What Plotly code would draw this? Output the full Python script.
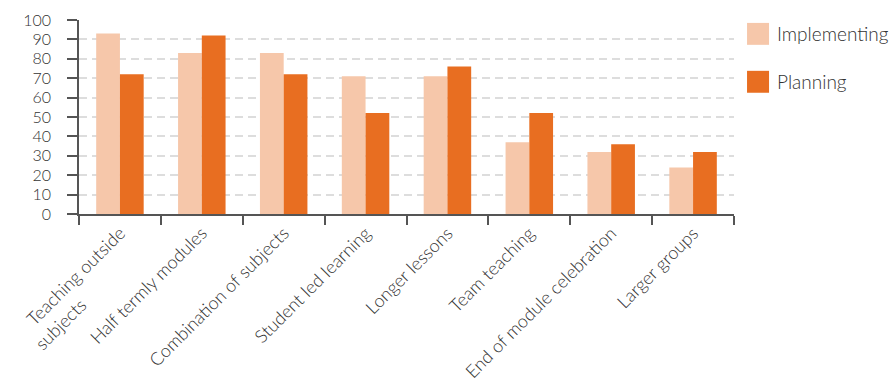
import plotly.graph_objects as go

categories = ["Teaching outside<br>subjects" + "\u00a0" * 16, "Half termly modules", "Combination of subjects",
              "Student led learning", "Longer lessons", "Team teaching",
              "End of module celebration", "Larger groups"]
implementing = [93, 83, 83, 71, 71, 37, 32, 24]
planning = [72, 92, 72, 52, 76, 52, 36, 32]
series_names = ["Implementing", "Planning"]
colors = ["#F6C7AA", "#E86E21"]
y_ticks = list(range(0, 101, 10))

fig = go.Figure()
fig.add_trace(go.Bar(x=categories, y=implementing, name=series_names[0],
                     marker=dict(color=colors[0], line=dict(width=0)), showlegend=False))
fig.add_trace(go.Bar(x=categories, y=planning, name=series_names[1],
                     marker=dict(color=colors[1], line=dict(width=0)), showlegend=False))

font_family = "Lato, 'Open Sans', sans-serif"
fig.update_layout(
    width=890, height=388,
    margin=dict(l=79, r=156, t=20, b=174, autoexpand=False),
    paper_bgcolor="white", plot_bgcolor="white",
    barmode="group", bargap=0.42, bargroupgap=0,
    font=dict(family=font_family, color="#333333"),
    showlegend=False,
)
fig.update_xaxes(
    type="category", tickson="boundaries", ticks="outside", ticklen=9,
    tickcolor="#555555", tickwidth=1.5, automargin=False,
    showline=True, linecolor="#555555", linewidth=1.5,
    tickangle=-45, tickfont=dict(size=18, color="#333333", weight=300),
    showgrid=False,
)
fig.update_yaxes(
    range=[0, 100], tickvals=y_ticks, ticks="outside", ticklen=10,
    tickcolor="#555555", tickwidth=1.5, automargin=False,
    showline=True, linecolor="#555555", linewidth=1.5,
    tickfont=dict(size=16, color="#333333", weight=300),
    ticklabelstandoff=13,
    showgrid=True, gridcolor="#DDDDDD", griddash="8px,5px", gridwidth=1.5,
    zeroline=False,
)

# manual legend
legend_y = [0.985, 0.738]
for i, name in enumerate(series_names):
    fig.add_shape(type="rect", xref="paper", yref="paper",
                  x0=1.0199, x1=1.0535, y0=legend_y[i] - 0.113, y1=legend_y[i],
                  fillcolor=colors[i], line=dict(width=0))
    fig.add_annotation(xref="paper", yref="paper", x=1.062, y=legend_y[i] - 0.0565,
                       text=name, showarrow=False, xanchor="left", yanchor="middle",
                       font=dict(size=19, color="#333333", family=font_family, weight=300))

fig.write_html("out.html")
